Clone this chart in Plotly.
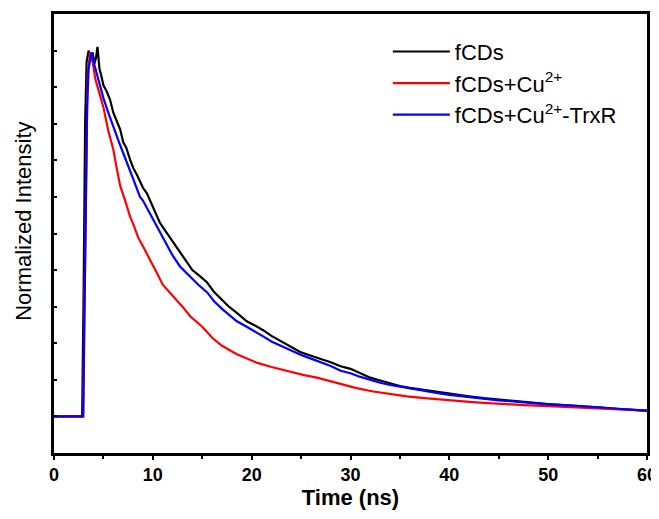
import plotly.graph_objects as go

# Time (ns) and normalized intensity
t_black = [0, 2.85, 3.0, 3.15, 3.3, 3.5, 3.7, 3.9, 4.1, 4.25, 4.4, 4.6, 4.8, 5.0, 5.3, 5.67, 6.0, 6.3, 6.7, 7.0, 7.3, 7.7, 8.0, 8.4, 8.7, 9.0, 9.4, 10.0, 10.7, 11.2, 11.7, 12.3, 13.0, 13.5, 14.0, 14.7, 15.5, 16.2, 17.0, 17.7, 18.5, 19.5, 20.5, 21.2, 22.0, 23.0, 24.0, 25.0, 26.0, 27.2, 28.0, 29.0, 30.0, 31.0, 32.0, 33.0, 34.0, 35.0, 36.0, 37.0, 38.0, 39.0, 40.0, 41.0, 42.0, 43.5, 45.0, 47.0, 48.5, 50.0, 52.0, 53.5, 55.0, 57.0, 58.5, 60.0]
i_black = [0, 0, 0.35, 0.8, 0.97, 1.0, 0.975, 0.995, 0.965, 0.98, 1.01, 0.95, 0.93, 0.905, 0.89, 0.866, 0.83, 0.81, 0.784, 0.75, 0.735, 0.702, 0.68, 0.66, 0.64, 0.625, 0.61, 0.575, 0.53, 0.51, 0.49, 0.465, 0.44, 0.42, 0.40, 0.385, 0.366, 0.34, 0.318, 0.30, 0.283, 0.26, 0.246, 0.235, 0.22, 0.205, 0.19, 0.175, 0.166, 0.156, 0.148, 0.137, 0.13, 0.118, 0.106, 0.098, 0.09, 0.083, 0.078, 0.074, 0.07, 0.065, 0.061, 0.058, 0.055, 0.05, 0.046, 0.041, 0.037, 0.034, 0.03, 0.028, 0.025, 0.021, 0.018, 0.015]

t_red = [0, 2.95, 3.05, 3.2, 3.4, 3.65, 3.9, 4.2, 4.6, 5.0, 5.5, 6.0, 6.3, 6.7, 7.2, 7.7, 8.1, 8.5, 9.0, 9.5, 10.0, 10.4, 11.0, 11.5, 12.0, 13.0, 13.8, 15.0, 16.0, 17.0, 18.5, 19.5, 20.5, 22.0, 23.0, 24.0, 25.3, 26.6, 28.0, 29.0, 30.5, 32.3, 34.0, 35.7, 37.5, 39.0, 40.5, 42.0, 43.5, 45.0, 47.5, 50.0, 52.5, 55.0, 57.5, 60.0]
i_red = [0, 0, 0.25, 0.6, 0.93, 0.995, 0.97, 0.92, 0.88, 0.845, 0.78, 0.73, 0.685, 0.63, 0.59, 0.546, 0.52, 0.49, 0.465, 0.44, 0.415, 0.393, 0.36, 0.345, 0.328, 0.30, 0.273, 0.245, 0.215, 0.193, 0.17, 0.158, 0.147, 0.135, 0.128, 0.122, 0.113, 0.106, 0.096, 0.087, 0.078, 0.068, 0.061, 0.055, 0.05, 0.046, 0.043, 0.04, 0.037, 0.034, 0.031, 0.028, 0.025, 0.023, 0.019, 0.016]

t_blue = [0, 2.95, 3.05, 3.2, 3.35, 3.5, 3.8, 4.1, 4.5, 5.0, 5.5, 6.0, 6.5, 7.0, 7.4, 8.0, 8.7, 9.0, 9.5, 10.0, 10.5, 11.0, 11.5, 12.0, 12.75, 13.8, 14.6, 15.5, 16.2, 17.0, 17.7, 18.5, 19.5, 20.5, 21.2, 22.0, 23.0, 24.0, 25.0, 26.0, 27.2, 28.0, 29.0, 30.0, 31.0, 32.3, 33.0, 34.0, 35.0, 36.0, 37.0, 38.0, 39.0, 40.0, 41.0, 42.0, 43.5, 45.0, 47.0, 48.5, 50.0, 52.0, 53.5, 55.0, 57.0, 58.5, 60.0]
i_blue = [0, 0, 0.2, 0.55, 0.85, 0.95, 0.995, 0.96, 0.92, 0.87, 0.83, 0.79, 0.755, 0.72, 0.694, 0.65, 0.60, 0.59, 0.565, 0.54, 0.515, 0.49, 0.465, 0.44, 0.41, 0.38, 0.36, 0.339, 0.315, 0.294, 0.278, 0.26, 0.245, 0.23, 0.218, 0.205, 0.192, 0.18, 0.168, 0.158, 0.147, 0.138, 0.125, 0.118, 0.108, 0.097, 0.092, 0.086, 0.081, 0.076, 0.071, 0.067, 0.063, 0.059, 0.056, 0.053, 0.048, 0.044, 0.04, 0.036, 0.033, 0.03, 0.028, 0.025, 0.021, 0.018, 0.016]

names = ["fCDs", "fCDs+Cu<sup>2+</sup>", "fCDs+Cu<sup>2+</sup>-TrxR"]
colors = ["#000000", "#ff0000", "#0000ff"]

fig = go.Figure()
for k, (t, i, n, c) in enumerate(zip([t_black, t_red, t_blue], [i_black, i_red, i_blue], names, colors)):
    fig.add_trace(go.Scatter(x=t, y=i, mode="lines", name=n, legendgroup=f"g{k}",
                             line=dict(color=c, width=2.2)))

font_family = "Arial, Liberation Sans, sans-serif"
# The page body adds an 8px offset, so the figure is sized 8px smaller.
fig.update_layout(
    width=651, height=511,
    margin=dict(l=46, r=12, t=6, b=66, autoexpand=False),
    paper_bgcolor="white", plot_bgcolor="white",
    font=dict(family=font_family, color="black"),
    showlegend=True,
    legend=dict(x=0.563, y=0.962, xanchor="left", yanchor="top",
                font=dict(size=22, family=font_family, color="black"),
                bgcolor="rgba(0,0,0,0)", tracegroupgap=0, itemwidth=57),
    xaxis=dict(range=[0, 60], showline=True, mirror=True, linecolor="black", linewidth=2.5,
               ticks="outside", ticklen=4, tickwidth=2, tickcolor="black", dtick=10, tick0=0,
               minor=dict(ticks="outside", ticklen=3, tickwidth=2, tickcolor="black", dtick=5),
               showgrid=False, zeroline=False, automargin=False,
               tickfont=dict(size=18, family=font_family, weight="bold"),
               title=dict(text="<b>Time (ns)</b>", font=dict(size=22, family=font_family), standoff=0)),
    yaxis=dict(range=[-0.1, 1.1], showline=True, mirror=True, linecolor="black", linewidth=2.5,
               ticks="inside", ticklen=3, tickwidth=1.5, tickcolor="black", dtick=0.1, tick0=-0.1,
               showticklabels=False, showgrid=False, zeroline=False, automargin=False),
    annotations=[dict(text="Normalized Intensity", textangle=-90, xref="paper", yref="paper",
                      x=-0.052, y=0.527, xanchor="center", yanchor="middle", showarrow=False,
                      font=dict(size=22, family=font_family, color="black"))],
)

fig.write_html("out.html")
